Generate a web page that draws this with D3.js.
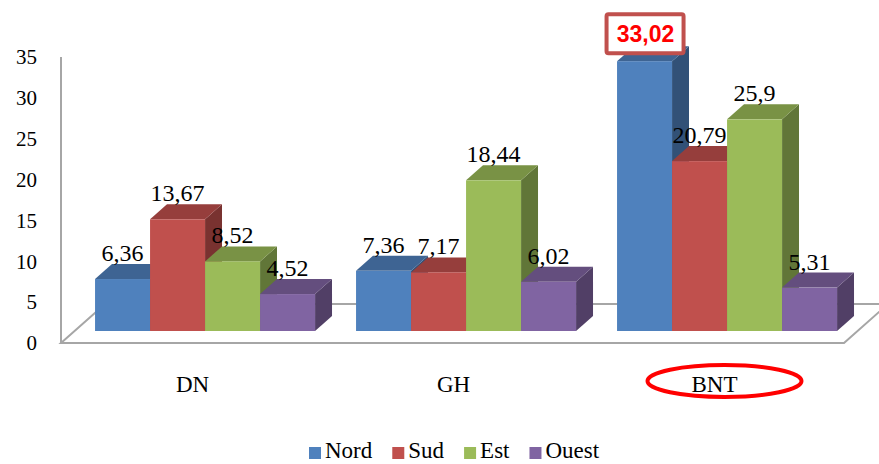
<!DOCTYPE html>
<html>
<head>
<meta charset="utf-8">
<script src="https://cdn.jsdelivr.net/npm/d3@7"></script>
<style>
  body { margin: 0; background: #fff; }
</style>
</head>
<body>
<div id="chart"></div>
<script>
// Chart data
const categories = ["DN", "GH", "BNT"];
const series = ["Nord", "Sud", "Est", "Ouest"];
const nord = [6.36, 7.36, 33.02];
const sud = [13.67, 7.17, 20.79];
const est = [8.52, 18.44, 25.9];
const ouest = [4.52, 6.02, 5.31];
const yTicks = [0, 5, 10, 15, 20, 25, 30, 35];
const highlightCat = "BNT";
const highlightSeries = "Nord";

const values = {Nord: nord, Sud: sud, Est: est, Ouest: ouest};
const colours = ["#4F81BD", "#C0504D", "#9BBB59", "#8064A2"];

const serif = "'Liberation Serif', 'Times New Roman', Times, serif";

var width = 879, height = 464;
var left = 61, right = 844, base = 343;

// depth (oblique projection)
var slant = 1.13, floorDepth = 39, barFront = 12, barDepth = 15;

let svg = d3.select("#chart")
    .append("svg")
    .attr("width", width)
    .attr("height", height)
    .attr("font-family", serif);

var x0 = d3.scaleBand()
    .domain(categories)
    .range([left, right])
    .paddingInner(0.157)
    .paddingOuter(0.0785);

var x1 = d3.scaleBand()
    .domain(series)
    .range([0, x0.bandwidth()]);

var y = d3.scaleLinear()
    .domain([0, 35])
    .range([base, 57]);

var colour = d3.scaleOrdinal()
    .domain(series)
    .range(colours);

const fmt = (v) => String(v).replace(".", ",");

// Floor
svg.append("path")
    .attr("d", `M${left},${base} L${right},${base} L${right + floorDepth * slant},${base - floorDepth} L${left + floorDepth * slant},${base - floorDepth} Z`)
    .attr("fill", "#fff")
    .attr("stroke", "#A6A6A6")
    .attr("stroke-width", 2);

// Wall edge
svg.append("line")
    .attr("x1", left).attr("x2", left)
    .attr("y1", y(35)).attr("y2", base)
    .attr("stroke", "#A6A6A6")
    .attr("stroke-width", 2);

// Bars
let bars = [];
categories.forEach(function(c, i) {
    series.forEach(function(s) {
        bars.push({cat: c, ser: s, value: values[s][i]});
    });
});

const ox = barFront * slant, oy = barFront;
const dx = barDepth * slant, dy = barDepth;

let g = svg.append("g");
bars.forEach(function(d) {
    let bx = x0(d.cat) + x1(d.ser) + ox;
    let w = x1.bandwidth();
    let top = y(d.value) - oy;
    let bot = y(0) - oy;
    let c = colour(d.ser);
    d.cx = bx + w / 2;
    d.top = top;

    // right side
    g.append("path")
        .attr("d", `M${bx + w},${top} L${bx + w + dx},${top - dy} L${bx + w + dx},${bot - dy} L${bx + w},${bot} Z`)
        .attr("fill", d3.color(c).darker(1.3));
    // top
    g.append("path")
        .attr("d", `M${bx},${top} L${bx + w},${top} L${bx + w + dx},${top - dy} L${bx + dx},${top - dy} Z`)
        .attr("fill", d3.color(c).darker(0.7));
    // front
    g.append("rect")
        .attr("x", bx)
        .attr("y", top)
        .attr("width", w)
        .attr("height", bot - top)
        .attr("fill", c);
});

// Data labels
svg.append("g")
    .selectAll("text")
    .data(bars.filter((d) => !(d.cat == highlightCat && d.ser == highlightSeries)))
    .enter()
    .append("text")
    .attr("x", (d) => d.cx)
    .attr("y", (d) => d.top - 18)
    .attr("text-anchor", "middle")
    .style("font-family", serif)
    .style("font-size", "24px")
    .text((d) => fmt(d.value));

// Highlighted label in a box
let hb = bars.find((d) => d.cat == highlightCat && d.ser == highlightSeries);
svg.append("rect")
    .attr("x", hb.cx - 38)
    .attr("y", hb.top - 47)
    .attr("width", 77)
    .attr("height", 39)
    .attr("fill", "#fff")
    .attr("stroke", "#C0504D")
    .attr("stroke-width", 4)
    .attr("rx", 2);
svg.append("text")
    .attr("x", hb.cx + 1)
    .attr("y", hb.top - 19)
    .attr("text-anchor", "middle")
    .style("font-family", "'Liberation Sans', Arial, sans-serif")
    .style("font-weight", "bold")
    .style("font-size", "23px")
    .style("fill", "#FF0000")
    .text(fmt(hb.value));

// Y tick labels
svg.append("g")
    .selectAll("text")
    .data(yTicks)
    .enter()
    .append("text")
    .attr("x", 37)
    .attr("y", (d) => y(d))
    .attr("dy", "0.35em")
    .attr("text-anchor", "end")
    .style("font-family", serif)
    .style("font-size", "21px")
    .text((d) => d);

// Category labels
svg.append("g")
    .selectAll("text")
    .data(categories)
    .enter()
    .append("text")
    .attr("x", (d) => x0(d) + x0.bandwidth() / 2 + 1)
    .attr("y", 384)
    .attr("dy", "0.35em")
    .attr("text-anchor", "middle")
    .style("font-family", serif)
    .style("font-size", "23px")
    .text((d) => d);

// Ellipse round highlighted category
svg.append("ellipse")
    .attr("cx", x0(highlightCat) + x0.bandwidth() / 2 + 11)
    .attr("cy", 381)
    .attr("rx", 77)
    .attr("ry", 16)
    .attr("fill", "none")
    .attr("stroke", "#FF0000")
    .attr("stroke-width", 4);

// Legend
let lx = 309;
series.forEach(function(s) {
    svg.append("rect")
        .attr("x", lx)
        .attr("y", 447)
        .attr("width", 12)
        .attr("height", 12)
        .attr("fill", colour(s));
    let t = svg.append("text")
        .attr("x", lx + 16)
        .attr("y", 458)
        .style("font-family", serif)
        .style("font-size", "23px")
        .text(s);
    lx += 16 + t.node().getComputedTextLength() + 20;
});
</script>
</body>
</html>
